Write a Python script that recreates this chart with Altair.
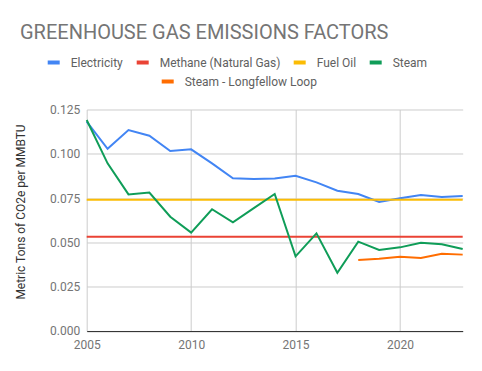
import altair as alt
import pandas as pd

years = list(range(2005, 2024))
electricity = [0.1181, 0.1028, 0.1134, 0.1102, 0.1016, 0.1025, 0.0946, 0.0862, 0.0858, 0.0860,
               0.0876, 0.0839, 0.0792, 0.0773, 0.0728, 0.0749, 0.0767, 0.0756, 0.0762]
methane = [0.0532, 0.0532, 0.0532, 0.0532, 0.0532, 0.0532, 0.0532, 0.0532, 0.0532, 0.0532,
           0.0532, 0.0532, 0.0532, 0.0532, 0.0532, 0.0532, 0.0532, 0.0532, 0.0532]
fuel_oil = [0.0740, 0.0740, 0.0740, 0.0740, 0.0740, 0.0740, 0.0740, 0.0740, 0.0740, 0.0740,
            0.0740, 0.0740, 0.0740, 0.0740, 0.0740, 0.0740, 0.0740, 0.0740, 0.0740]
steam = [0.1191, 0.0946, 0.0771, 0.0781, 0.0645, 0.0555, 0.0687, 0.0613, 0.0693, 0.0773,
         0.0421, 0.0551, 0.0329, 0.0504, 0.0457, 0.0472, 0.0498, 0.0489, 0.0463]
loop_years = [2018, 2019, 2020, 2021, 2022, 2023]
longfellow = [0.0401, 0.0408, 0.0419, 0.0412, 0.0436, 0.0431]

series_main = ["Electricity", "Methane (Natural Gas)", "Fuel Oil", "Steam"]
colors_main = ["#4285F4", "#EA4335", "#FBBC04", "#0F9D58"]
series_loop = ["Steam - Longfellow Loop"]
colors_loop = ["#FF6D01"]
x_ticks = [2005, 2010, 2015, 2020]
y_ticks = [0, 0.025, 0.05, 0.075, 0.1, 0.125]

rows = []
for name, vals in zip(series_main, [electricity, methane, fuel_oil, steam]):
    for y, v in zip(years, vals):
        rows.append({"series": name, "year": y, "value": v})
df_main = pd.DataFrame(rows)
df_loop = pd.DataFrame({"series": series_loop[0], "year": loop_years, "value": longfellow})

FONT = "Roboto"
x_enc = alt.X("year:Q", scale=alt.Scale(domain=[2005, 2023], nice=False, zero=False),
              axis=alt.Axis(values=x_ticks, format="d", title=None, grid=True, ticks=False,
                            labelPadding=9, labelFlush=False, domainColor="#333333",
                            gridColor="#cccccc", labelColor="#757575", labelFontSize=12,
                            labelFont=FONT))
y_enc = alt.Y("value:Q", scale=alt.Scale(domain=[0, 0.125], nice=False),
              axis=alt.Axis(values=y_ticks, format=".3f", title="Metric Tons of CO2e per MMBTU",
                            grid=True, ticks=False, domain=False, labelPadding=7,
                            gridColor="#cccccc", labelColor="#757575", labelFontSize=12,
                            labelFont=FONT, titleFont=FONT, titleFontSize=12,
                            titleFontWeight="normal", titleColor="#333333", titlePadding=22,
                            titleY=102))

main = alt.Chart(df_main).mark_line(strokeWidth=2).encode(
    x=x_enc, y=y_enc,
    color=alt.Color("series:N", sort=series_main,
                    scale=alt.Scale(domain=series_main, range=colors_main),
                    legend=alt.Legend(title=None, orient="none", direction="horizontal",
                                      legendX=-41, legendY=-55, symbolType="stroke",
                                      symbolSize=144, symbolStrokeWidth=4, labelOffset=9,
                                      columnPadding=5, labelFont=FONT, labelFontSize=12,
                                      labelColor="#616161", padding=0))
)
loop = alt.Chart(df_loop).mark_line(strokeWidth=2).encode(
    x="year:Q", y="value:Q",
    color=alt.Color("series:N",
                    scale=alt.Scale(domain=series_loop, range=colors_loop),
                    legend=alt.Legend(title=None, orient="none", direction="horizontal",
                                      legendX=73, legendY=-36, symbolType="stroke",
                                      symbolSize=144, symbolStrokeWidth=4, labelOffset=9,
                                      labelFont=FONT, labelFontSize=12,
                                      labelColor="#616161", padding=0))
)

chart = alt.layer(main, loop).resolve_scale(color="independent").properties(
    width=376, height=221.5,
    autosize=alt.AutoSizeParams(type="none"),
    padding={"left": 78.7, "top": 101.5, "right": 11, "bottom": 32},
    title=alt.TitleParams("GREENHOUSE GAS EMISSIONS FACTORS", anchor="start", frame="group",
                          dx=-66.7, offset=12, font=FONT, fontSize=20, fontWeight="normal",
                          color="#757575"),
).configure_view(stroke=None)

chart.save("out.html", embed_options={"renderer": "svg", "actions": False})
